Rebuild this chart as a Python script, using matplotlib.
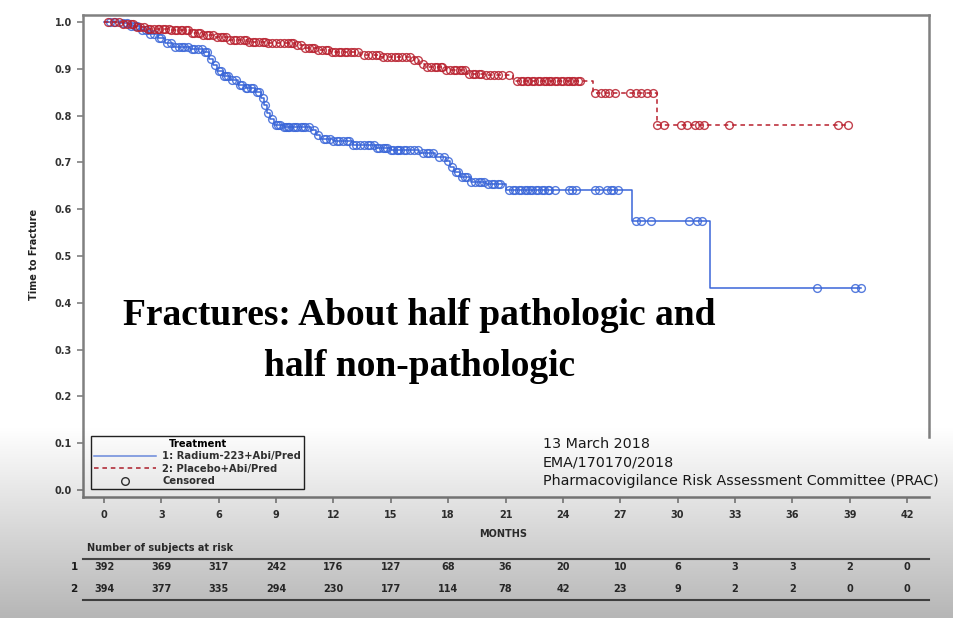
import numpy as np
import matplotlib
matplotlib.use('Agg')
import matplotlib.pyplot as plt
from matplotlib.lines import Line2D
from matplotlib import transforms

# step times (months) and survival after each step
blue_t = [0.8, 1.3, 1.9, 2.3, 2.8, 3.2, 3.6, 4.5, 5.2, 5.5, 5.7, 5.9, 6.2, 6.6, 7.0, 7.4, 7.9,
          8.2, 8.35, 8.5, 8.7, 8.9, 9.4, 10.8, 11.1, 11.3, 12.0, 13.0, 14.2, 15.0, 16.5, 17.3,
          17.9, 18.1, 18.3, 18.6, 19.2, 20.0, 21.0, 27.6, 31.7]
blue_s = [0.997, 0.992, 0.983, 0.975, 0.966, 0.956, 0.947, 0.942, 0.935, 0.922, 0.908, 0.895,
          0.885, 0.876, 0.866, 0.858, 0.850, 0.838, 0.822, 0.806, 0.792, 0.780, 0.775, 0.770,
          0.758, 0.750, 0.745, 0.738, 0.730, 0.726, 0.720, 0.712, 0.703, 0.690, 0.679, 0.669,
          0.658, 0.653, 0.640, 0.574, 0.432]
blue_cens = [0.3, 0.6, 1.0, 1.2, 1.4, 1.6, 1.7, 2.0, 2.2, 2.4, 2.6, 2.9, 3.0, 3.3, 3.5, 3.7, 3.9,
             4.1, 4.2, 4.4, 4.6, 4.7, 4.9, 5.1, 5.3, 5.4, 5.6, 5.8, 6.0, 6.1, 6.3, 6.4, 6.5, 6.7,
             6.9, 7.1, 7.2, 7.4, 7.5, 7.7, 7.8, 8.0, 8.1, 8.3, 8.4, 8.6, 8.8, 9.0, 9.1, 9.2, 9.4,
             9.5, 9.6, 9.7, 9.9, 10.0, 10.1, 10.3, 10.4, 10.5, 10.7, 11.0, 11.2, 11.5, 11.6,
             11.8, 12.0, 12.2, 12.3, 12.5, 12.7, 12.8, 13.0, 13.2, 13.4, 13.6, 13.8, 13.9, 14.1,
             14.3, 14.4, 14.6, 14.7, 14.8, 15.0, 15.1, 15.3, 15.4, 15.5, 15.7, 15.8, 16.0, 16.2,
             16.4, 16.7, 16.9, 17.0, 17.2, 17.5, 17.8, 18.0, 18.2, 18.4, 18.5, 18.7, 18.9, 19.0,
             19.2, 19.4, 19.6, 19.7, 19.9, 20.1, 20.3, 20.4, 20.6, 20.7, 21.2, 21.4, 21.5, 21.7,
             21.8, 22.0, 22.1, 22.3, 22.4, 22.6, 22.7, 22.9, 23.0, 23.2, 23.3, 23.6, 24.3, 24.5,
             24.7, 25.7, 25.9, 26.3, 26.5, 26.6, 26.9, 27.8, 28.1, 28.6, 30.6, 31.0, 31.3, 37.3,
             39.3, 39.6]

red_t = [1.0, 1.6, 2.2, 3.5, 4.5, 5.2, 5.8, 6.5, 7.5, 8.5, 10.0, 10.5, 11.2, 11.8, 13.4, 14.5,
         16.2, 16.5, 16.8, 17.9, 19.0, 20.0, 21.4, 25.6, 28.9]
red_s = [0.995, 0.990, 0.985, 0.982, 0.977, 0.972, 0.967, 0.962, 0.958, 0.955, 0.950, 0.944,
         0.940, 0.935, 0.929, 0.925, 0.918, 0.910, 0.904, 0.897, 0.890, 0.886, 0.874, 0.848, 0.781]
red_cens = [0.2, 0.5, 0.8, 1.0, 1.2, 1.4, 1.5, 1.7, 1.9, 2.1, 2.3, 2.4, 2.6, 2.8, 2.9, 3.1, 3.2,
            3.4, 3.5, 3.7, 3.8, 4.0, 4.1, 4.3, 4.4, 4.6, 4.7, 4.9, 5.0, 5.2, 5.4, 5.5, 5.7, 5.9,
            6.1, 6.2, 6.4, 6.6, 6.8, 6.9, 7.1, 7.3, 7.4, 7.6, 7.8, 7.9, 8.1, 8.3, 8.4, 8.6, 8.8,
            9.0, 9.2, 9.4, 9.6, 9.8, 9.9, 10.1, 10.3, 10.5, 10.7, 10.9, 11.0, 11.2, 11.4, 11.6,
            11.7, 11.9, 12.1, 12.3, 12.4, 12.6, 12.7, 12.9, 13.1, 13.3, 13.6, 13.8, 14.0, 14.2,
            14.4, 14.6, 14.8, 15.0, 15.2, 15.4, 15.6, 15.8, 16.0, 16.2, 16.4, 16.7, 16.9, 17.1,
            17.3, 17.4, 17.6, 17.7, 17.9, 18.1, 18.3, 18.4, 18.6, 18.7, 18.9, 19.1, 19.3, 19.4,
            19.6, 19.7, 20.0, 20.2, 20.4, 20.6, 20.8, 21.2, 21.6, 21.8, 21.9, 22.1, 22.2, 22.4,
            22.5, 22.7, 22.8, 23.0, 23.1, 23.3, 23.4, 23.6, 23.7, 23.9, 24.0, 24.2, 24.3, 24.5,
            24.6, 24.8, 24.9, 25.7, 26.0, 26.2, 26.4, 26.7, 27.5, 27.8, 28.1, 28.4, 28.7, 28.9,
            29.3, 30.2, 30.5, 30.9, 31.1, 31.4, 32.7, 38.4, 38.9]

months = [0, 3, 6, 9, 12, 15, 18, 21, 24, 27, 30, 33, 36, 39, 42]
risk1 = [392, 369, 317, 242, 176, 127, 68, 36, 20, 10, 6, 3, 3, 2, 0]
risk2 = [394, 377, 335, 294, 230, 177, 114, 78, 42, 23, 9, 2, 2, 0, 0]

BLUE = '#3a66d8'
RED = '#b8202e'
GRAY = '#808080'

fig = plt.figure(figsize=(9.54, 6.18), dpi=100)
ax = fig.add_axes([0.0870, 0.1958, 0.8868, 0.7799])


def km(ax, t, s, cens, color, ls):
    t = np.array(t)
    s = np.array(s)
    cens = np.array(cens)
    x = np.r_[0, t, cens.max()]
    y = np.r_[1.0, s, s[-1]]
    ax.step(x, y, where='post', color=color, lw=1.1, ls=ls)
    idx = np.searchsorted(t, cens, side='right')
    cy = np.r_[1.0, s][idx]
    ax.plot(cens, cy, 'o', ms=5.6, mfc='none', mec=color, mew=1.0, alpha=0.85)


km(ax, blue_t, blue_s, blue_cens, BLUE, '-')
km(ax, red_t, red_s, red_cens, RED, (0, (3, 2.5)))

ax.set_xlim(-1.1, 43.15)
ax.set_ylim(-0.015, 1.015)
ax.set_xticks(months)
ax.set_yticks(np.arange(0, 1.01, 0.1))
ax.set_yticklabels(['%.1f' % v for v in np.arange(0, 1.01, 0.1)])
ax.tick_params(axis='both', colors=GRAY, labelcolor='#333333', labelsize=7, length=4.5, width=1.2)
ax.tick_params(axis='x', pad=5)
for lab in ax.get_xticklabels() + ax.get_yticklabels():
    lab.set_fontweight('bold')
for side in ['left', 'right', 'top', 'bottom']:
    ax.spines[side].set_color(GRAY)
    ax.spines[side].set_linewidth(1.8)
ax.spines['right'].set_bounds(0.113, 1.015)

fig.text(34 / 954, 1 - 254 / 618, 'Time to Fracture', rotation=90, ha='center', va='center',
         fontsize=7, fontweight='bold', color='#222222')

# legend
handles = [Line2D([], [], color='#6f8fe6', lw=1.1),
           Line2D([], [], color=RED, lw=1.1, ls=(0, (3, 2.5))),
           Line2D([], [], ls='none', marker='o', ms=5.5, mfc='none', mec='#333333', mew=1.0)]
leg = ax.legend(handles, ['1: Radium-223+Abi/Pred', '2: Placebo+Abi/Pred', 'Censored'],
                title='Treatment', loc='lower left', bbox_to_anchor=(0.004, 0.006),
                fontsize=7.2, title_fontsize=7.2, handlelength=6.2, handletextpad=0.6,
                labelspacing=0.25, borderpad=0.3, fancybox=False, framealpha=1,
                edgecolor='#222222', facecolor='white')
leg.get_title().set_fontweight('bold')
leg.get_frame().set_linewidth(1.0)
for txt in leg.get_texts():
    txt.set_fontweight('bold')
    txt.set_color('#333333')

# overlay text
fig.text(419 / 954, 1 - 325 / 618, 'Fractures: About half pathologic and', ha='center',
         va='baseline', fontsize=27, fontweight='bold', family='Liberation Serif')
fig.text(420 / 954, 1 - 376 / 618, 'half non-pathologic', ha='center', va='baseline',
         fontsize=27, fontweight='bold', family='Liberation Serif')

for i, line in enumerate(['13 March 2018', 'EMA/170170/2018',
                          'Pharmacovigilance Risk Assessment Committee (PRAC)']):
    fig.text(543 / 954, 1 - (444 + 18.5 * i) / 618, line, ha='left', va='center',
             fontsize=10.3, color='#1a1a1a')

# x label and risk table
fig.text(503 / 954, 1 - 534 / 618, 'MONTHS', ha='center', va='center', fontsize=7,
         fontweight='bold', color='#333333')
fig.text(87 / 954, 1 - 548 / 618, 'Number of subjects at risk', ha='left', va='center',
         fontsize=7, fontweight='bold', color='#333333')
trans = transforms.blended_transform_factory(ax.transData, fig.transFigure)
for m, a, b in zip(months, risk1, risk2):
    ax.text(m, 1 - 567 / 618, str(a), transform=trans, ha='center', va='center', fontsize=7,
            fontweight='bold', color='#333333', clip_on=False)
    ax.text(m, 1 - 589 / 618, str(b), transform=trans, ha='center', va='center', fontsize=7,
            fontweight='bold', color='#333333', clip_on=False)
fig.text(74 / 954, 1 - 567 / 618, '1', ha='center', va='center', fontsize=7.5,
         fontweight='bold', color='#222222')
fig.text(74 / 954, 1 - 589 / 618, '2', ha='center', va='center', fontsize=7.5,
         fontweight='bold', color='#222222')
for yy in [559, 600]:
    fig.add_artist(Line2D([83 / 954, 929 / 954], [1 - yy / 618, 1 - yy / 618], color='#555555',
                          lw=1.5))

# grey video overlay at the bottom
ov = fig.add_axes([0, 0, 1, 1], zorder=20)
ov.axis('off')
grad = np.zeros((200, 2, 4))
ramp = np.linspace(0, 1, 200)
grad[:, :, 3] = (0.29 * ramp)[:, None]
ov.imshow(grad, extent=[0, 1, 0, (618 - 425) / 618], aspect='auto', origin='upper')
ov.set_xlim(0, 1)
ov.set_ylim(0, 1)

fig.savefig('out.png', dpi=100)
